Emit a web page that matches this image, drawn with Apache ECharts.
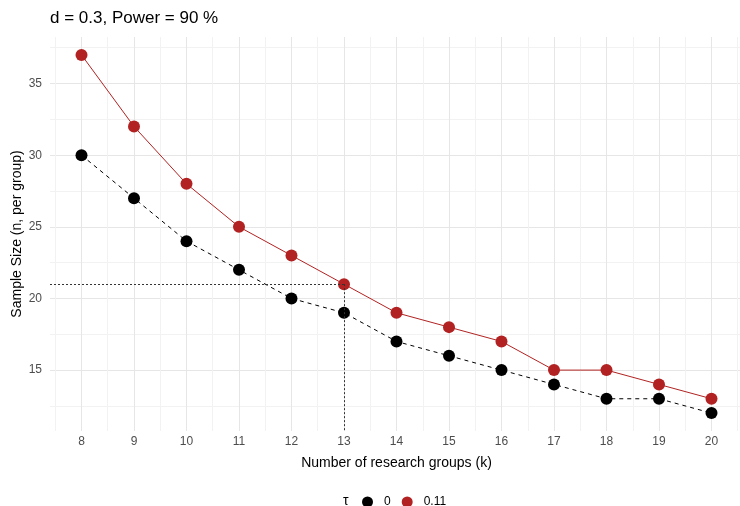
<!DOCTYPE html>
<html>
<head>
<meta charset="utf-8">
<script src="https://cdn.jsdelivr.net/npm/echarts@6/dist/echarts.min.js"></script>
<style>
  html, body { margin: 0; padding: 0; background: #fff; }
  #main { width: 740px; height: 506px; }
</style>
</head>
<body>
<div id="main"></div>
<script>
// data
const groups = [8, 9, 10, 11, 12, 13, 14, 15, 16, 17, 18, 19, 20];
const tau0 = [30, 27, 24, 22, 20, 19, 17, 16, 15, 14, 13, 13, 12];
const tau011 = [37, 32, 28, 25, 23, 21, 19, 18, 17, 15, 15, 14, 13];
const seriesNames = ['0', '0.11'];
const yTicks = [15, 20, 25, 30, 35];
const yMinor = [12.5, 17.5, 22.5, 27.5, 32.5, 37.5];
const xMinor = [7.5, 8.5, 9.5, 10.5, 11.5, 12.5, 13.5, 14.5, 15.5, 16.5, 17.5, 18.5, 19.5, 20.5];
const refK = 13;
const refN = 21;

const xMin = 7.4, xMax = 20.6, yMin = 10.75, yMax = 38.25;
const font = 'Liberation Sans';

let myChart = echarts.init(document.getElementById('main'));

function pairs(vals) {
  return groups.map(function (k, i) { return [k, vals[i]]; });
}

let option = {
  animation: false,
  backgroundColor: '#fff',
  textStyle: { fontFamily: font },
  title: {
    text: 'd = 0.3, Power = 90 %',
    left: 45,
    top: 5,
    textStyle: { fontFamily: font, fontSize: 17, fontWeight: 'normal', color: '#000' }
  },
  legend: {
    data: seriesNames,
    top: 496,
    left: 362,
    padding: 0,
    itemWidth: 11,
    itemHeight: 11,
    itemGap: 11,
    icon: 'circle',
    textStyle: { fontFamily: font, fontSize: 12, color: '#000', padding: [0, 0, 0, 6] }
  },
  graphic: [
    {
      type: 'text',
      left: 343,
      top: 494,
      style: { text: 'τ', font: '14px "Liberation Sans"', fill: '#000' }
    },
    {
      // y axis title
      type: 'text',
      x: 17,
      y: 234,
      rotation: Math.PI / 2,
      style: {
        text: 'Sample Size (n, per group)',
        font: '14px "Liberation Sans"',
        fill: '#000',
        align: 'center',
        verticalAlign: 'middle'
      }
    }
  ],
  grid: { left: 50, top: 37, width: 693, height: 394, containLabel: false, outerBoundsMode: 'none' },
  xAxis: [
    {
      type: 'value',
      min: xMin, max: xMax,
      name: 'Number of research groups (k)',
      nameLocation: 'middle',
      nameGap: 25,
      nameTextStyle: { fontFamily: font, fontSize: 14, color: '#000' },
      axisLine: { show: false },
      axisTick: { show: false, customValues: groups },
      axisLabel: { customValues: groups, margin: 5, fontSize: 12, color: '#4d4d4d' },
      splitLine: { show: true, lineStyle: { color: '#e6e6e6', width: 1 } }
    },
    {
      type: 'value',
      position: 'top',
      min: xMin, max: xMax,
      axisLine: { show: false },
      axisTick: { show: false, customValues: xMinor },
      axisLabel: { show: false, customValues: xMinor },
      splitLine: { show: true, lineStyle: { color: '#f2f2f2', width: 1 } }
    }
  ],
  yAxis: [
    {
      type: 'value',
      min: yMin, max: yMax,
      axisLine: { show: false },
      axisTick: { show: false, customValues: yTicks },
      axisLabel: { customValues: yTicks, margin: 8, fontSize: 12, color: '#4d4d4d' },
      splitLine: { show: true, lineStyle: { color: '#e6e6e6', width: 1 } }
    },
    {
      type: 'value',
      position: 'right',
      min: yMin, max: yMax,
      axisLine: { show: false },
      axisTick: { show: false, customValues: yMinor },
      axisLabel: { show: false, customValues: yMinor },
      splitLine: { show: true, lineStyle: { color: '#f2f2f2', width: 1 } }
    }
  ],
  series: [
    {
      name: seriesNames[0],
      type: 'line',
      data: pairs(tau0),
      symbol: 'circle',
      symbolSize: 12,
      itemStyle: { color: '#000' },
      lineStyle: { color: '#000', width: 1, type: [4, 4] },
      z: 3,
      markLine: {
        silent: true,
        symbol: 'none',
        label: { show: false },
        lineStyle: { color: '#333', width: 1, type: [2, 2] },
        data: [
          [{ coord: [xMin, refN] }, { coord: [refK, refN] }],
          [{ coord: [refK, refN] }, { coord: [refK, yMin] }]
        ]
      }
    },
    {
      name: seriesNames[1],
      type: 'line',
      data: pairs(tau011),
      symbol: 'circle',
      symbolSize: 12,
      itemStyle: { color: '#b22222' },
      lineStyle: { color: '#b22222', width: 1 },
      z: 4
    }
  ]
};

myChart.setOption(option);
window.addEventListener('resize', function () {
  myChart.resize();
});
</script>
</body>
</html>
